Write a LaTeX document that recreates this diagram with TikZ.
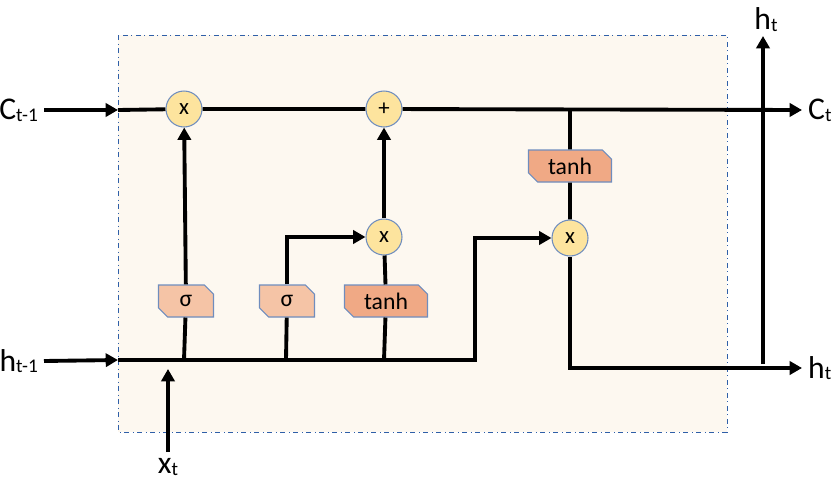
\documentclass[tikz,border=0pt]{standalone}
\usepackage{fontspec}
\setmainfont{Carlito}
\usetikzlibrary{arrows.meta,shapes.misc}
\definecolor{cellbg}{HTML}{FDF8F0}
\definecolor{celledge}{HTML}{2F5FA8}
\definecolor{gatefill}{HTML}{FDE49E}
\definecolor{gateedge}{HTML}{6F8DBE}
\definecolor{sigfill}{HTML}{F5C4A6}
\definecolor{tanhfill}{HTML}{F0A985}
% signal name with a small index
\newcommand{\sig}[2]{{\fontsize{18}{18}\selectfont #1}\raisebox{-1pt}{\fontsize{11}{11}\selectfont #2}}

\begin{document}
\begin{tikzpicture}[x=0.02cm,y=-0.02cm,
    flow/.style={line width=2.2pt},
    arr/.style={flow,-{Triangle[length=7pt,width=7.5pt]}},
    op/.style={circle,draw=gateedge,fill=gatefill,line width=0.6pt,minimum size=0.72cm,inner sep=0pt,font=\fontsize{13}{13}\selectfont},
    act/.style={chamfered rectangle,chamfered rectangle corners={north east,south west},chamfered rectangle xsep=2pt,draw=gateedge,line width=0.6pt,minimum width=1.1cm,minimum height=0.64cm,inner sep=0pt,font=\fontsize{13.5}{13.5}\selectfont}]
	\useasboundingbox (0,0) rectangle (839,487);
	% cell body
	\fill[cellbg] (118,35) rectangle (727,432);
	\draw[celledge,dash dot,line width=0.5pt] (118,35) rectangle (727,432);

	% gates
	\node[op] (mf) at (184,109) {x};
	\node[op] (add) at (384,109) {+};
	\node[op] (mi) at (384,237) {x};
	\node[op] (mo) at (570,238) {x};
	\node[act,fill=sigfill] (sf) at (186,301) {σ};
	\node[act,fill=sigfill] (si) at (287,301) {σ};
	\node[act,fill=tanhfill,minimum width=1.66cm] (tc) at (386,301) {tanh};
	\node[act,fill=tanhfill,minimum width=1.66cm] (th) at (570,166) {tanh};

	% inputs and outputs
	\node[anchor=east] (cin) at (44,110) {\sig{C}{t-1}};
	\node[anchor=east] (hin) at (44,361) {\sig{h}{t-1}};
	\node[anchor=north] (xin) at (168,452) {\sig{x}{t}};
	\node[anchor=west] (cout) at (802,110) {\sig{C}{t}};
	\node[anchor=west] (hout) at (802,368) {\sig{h}{t}};
	\node[anchor=south,inner sep=1pt] (hup) at (766,34) {\sig{h}{t}};

	\coordinate (cl) at (118,110);
	\coordinate (hl) at (118,360);
	\coordinate (jf) at (184,360);
	\coordinate (ji) at (286,360);
	\coordinate (jc) at (384,360);
	\coordinate (jh) at (475,360);
	\coordinate (jt) at (570,110);
	\coordinate (xt) at (168,369);
	\coordinate (hb) at (763,364);
	\coordinate (htop) at (763,36);

	% cell state
	\draw[arr] (cin.east) -- (cl);
	\draw[arr] (cl) -- (mf) -- (add) -- (cout.west);
	% hidden state and input
	\draw[arr] (hin.east) -- (hl);
	\draw[arr] (hl) -- (jh) |- (mo.west);
	\draw[arr] (xin.north) -- (xt);
	% forget gate
	\draw[flow] (jf) -- (sf);
	\draw[arr] (sf) -- (mf);
	% input gate
	\draw[flow] (ji) -- (si);
	\draw[arr] (si.north) |- (mi.west);
	\draw[flow] (jc) -- (tc);
	\draw[flow] (tc) -- (mi);
	\draw[arr] (mi) -- (add);
	% output
	\draw[flow] (jt) -- (th);
	\draw[flow] (th) -- (mo);
	\draw[arr] (mo.south) |- (hout.west);
	\draw[arr] (hb) -- (htop);
\end{tikzpicture}
\end{document}
